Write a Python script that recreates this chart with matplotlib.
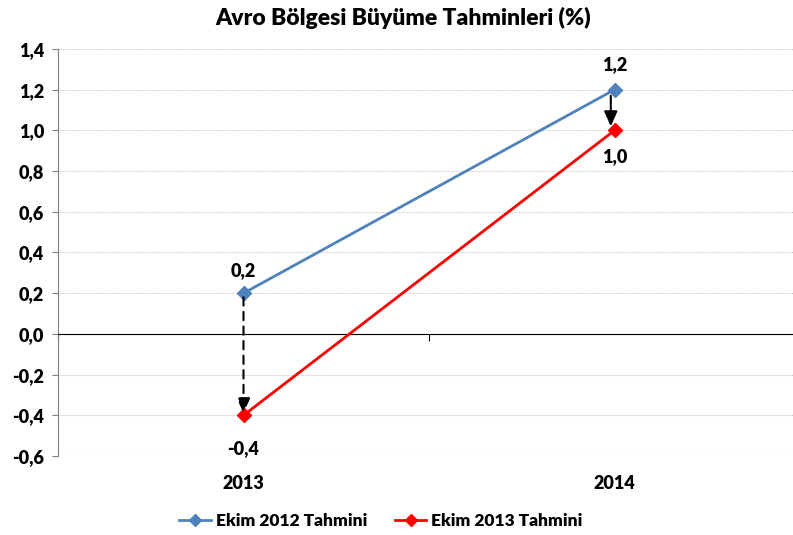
import matplotlib
matplotlib.use("Agg")
import matplotlib.pyplot as plt
from matplotlib.lines import Line2D

plt.rcParams['font.family'] = ['Lato', 'DejaVu Sans']

categories = ["2013", "2014"]
series_names = ["Ekim 2012 Tahmini", "Ekim 2013 Tahmini"]
ekim2012 = [0.2, 1.2]
ekim2013 = [-0.4, 1.0]
ytick_labels = ["-0,6", "-0,4", "-0,2", "0,0", "0,2", "0,4", "0,6", "0,8", "1,0", "1,2", "1,4"]
yticks = [-0.6, -0.4, -0.2, 0.0, 0.2, 0.4, 0.6, 0.8, 1.0, 1.2, 1.4]

fig = plt.figure(figsize=(7.93, 5.35), dpi=100)
ax = fig.add_axes([58/793, 1 - 456/535, 742/793, (456 - 49)/535])

x = list(range(len(categories)))
ax.plot(x, ekim2012, color="#4F81BD", lw=2, marker="D", ms=7, zorder=3)
ax.plot(x, ekim2013, color="#FF0000", lw=2, marker="D", ms=7, zorder=3)

ax.set_xlim(-0.5, 1.5)
ax.set_ylim(-0.6, 1.4)
ax.set_yticks(yticks)
ax.set_yticklabels(ytick_labels, fontsize=13, fontweight="heavy")
ax.yaxis.grid(True, color="#C8C8C8", linestyle=(0, (1, 1)), lw=0.8)
ax.set_axisbelow(True)
ax.tick_params(axis="y", length=4, color="#808080", pad=6)

for s in ["top", "right"]:
    ax.spines[s].set_visible(False)
ax.spines["left"].set_color("#808080")
ax.spines["bottom"].set_position(("data", 0))
ax.spines["bottom"].set_color("black")
ax.set_xticks([-0.5, 0.5, 1.5])
ax.set_xticklabels([])
ax.tick_params(axis="x", length=5, direction="out", color="black")

for xi, c in zip(x, categories):
    ax.text(xi, -0.735, c, ha="center", va="center", fontsize=13, fontweight="heavy")

# data labels
ax.annotate("0,2", (0, ekim2012[0]), xytext=(0, 10), textcoords="offset points",
            ha="center", va="bottom", fontsize=13, fontweight="heavy")
ax.annotate("1,2", (1, ekim2012[1]), xytext=(0, 12), textcoords="offset points",
            ha="center", va="bottom", fontsize=13, fontweight="heavy")
ax.annotate("-0,4", (0, ekim2013[0]), xytext=(0, -18), textcoords="offset points",
            ha="center", va="top", fontsize=13, fontweight="heavy")
ax.annotate("1,0", (1, ekim2013[1]), xytext=(0, -13), textcoords="offset points",
            ha="center", va="top", fontsize=13, fontweight="heavy")

# arrows
ax.annotate("", xy=(0, ekim2013[0] + 0.01), xytext=(0, ekim2012[0] - 0.02),
            arrowprops=dict(arrowstyle="-|>,head_length=0.9,head_width=0.4", color="black",
                            lw=1.5, linestyle=(0, (4, 3)), shrinkA=0, shrinkB=0), zorder=4)
ax.annotate("", xy=(0.99, ekim2013[1] + 0.02), xytext=(0.99, ekim2012[1] - 0.03),
            arrowprops=dict(arrowstyle="-|>,head_length=0.9,head_width=0.4", color="black",
                            lw=1.5, shrinkA=0, shrinkB=0), zorder=4)

fig.text(403/793, 1 - 18/535, "Avro Bölgesi Büyüme Tahminleri (%)", ha="center", va="center",
         fontsize=16.5, fontweight="heavy")

handles = [Line2D([], [], color="#4F81BD", lw=2, marker="D", ms=6),
           Line2D([], [], color="#FF0000", lw=2, marker="D", ms=6)]
fig.legend(handles, series_names, loc="center", bbox_to_anchor=(381/793, 1 - 521/535),
           ncol=2, frameon=False, prop=dict(size=12.5, weight="heavy"), handlelength=1.8,
           handletextpad=0.3, columnspacing=1.6)

fig.savefig("out.png", dpi=100)
